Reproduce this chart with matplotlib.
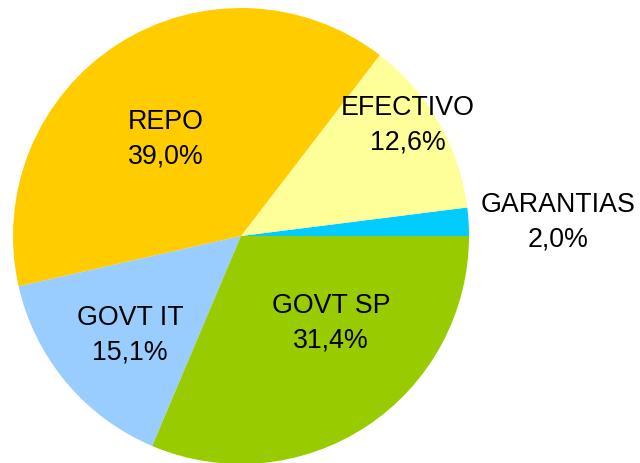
import numpy as np
import matplotlib
matplotlib.use("Agg")
import matplotlib.pyplot as plt

plt.rcParams['font.family'] = ['Liberation Sans', 'DejaVu Sans']

categories = ["GARANTIAS", "EFECTIVO", "REPO", "GOVT IT", "GOVT SP"]
shares = [2.0, 12.6, 39.0, 15.1, 31.4]
pct_labels = ["2,0%", "12,6%", "39,0%", "15,1%", "31,4%"]

colors = ["#00CCFF", "#FFFF99", "#FFCC00", "#99CCFF", "#99CC00"]
# radial distance and angular nudge (deg) for each label
label_dist = [1.39, 0.88, 0.54, 0.65, 0.546]
label_nudge = [-0.9, 4.0, 5.0, 1.5, 12.6]

fig = plt.figure(figsize=(6.4, 4.64), dpi=100)
ax = fig.add_axes([0, 0, 1, 1])

wedges, _ = ax.pie(shares, colors=colors, startangle=0, counterclock=True,
                   radius=1.0, wedgeprops=dict(linewidth=0))

for w, name, pct, d, nudge in zip(wedges, categories, pct_labels, label_dist, label_nudge):
    ang = np.deg2rad((w.theta1 + w.theta2) / 2 + nudge)
    ax.text(d * np.cos(ang), d * np.sin(ang), f"{name}\n{pct}",
            ha="center", va="center", fontsize=19.3, linespacing=1.42)

ax.set_aspect("auto")
ax.set_xlim(-241 / 228, (640 - 241) / 228)
ax.set_ylim(-227 / 228, (464 - 227) / 228)
ax.axis("off")

fig.savefig("out.png", dpi=100)
